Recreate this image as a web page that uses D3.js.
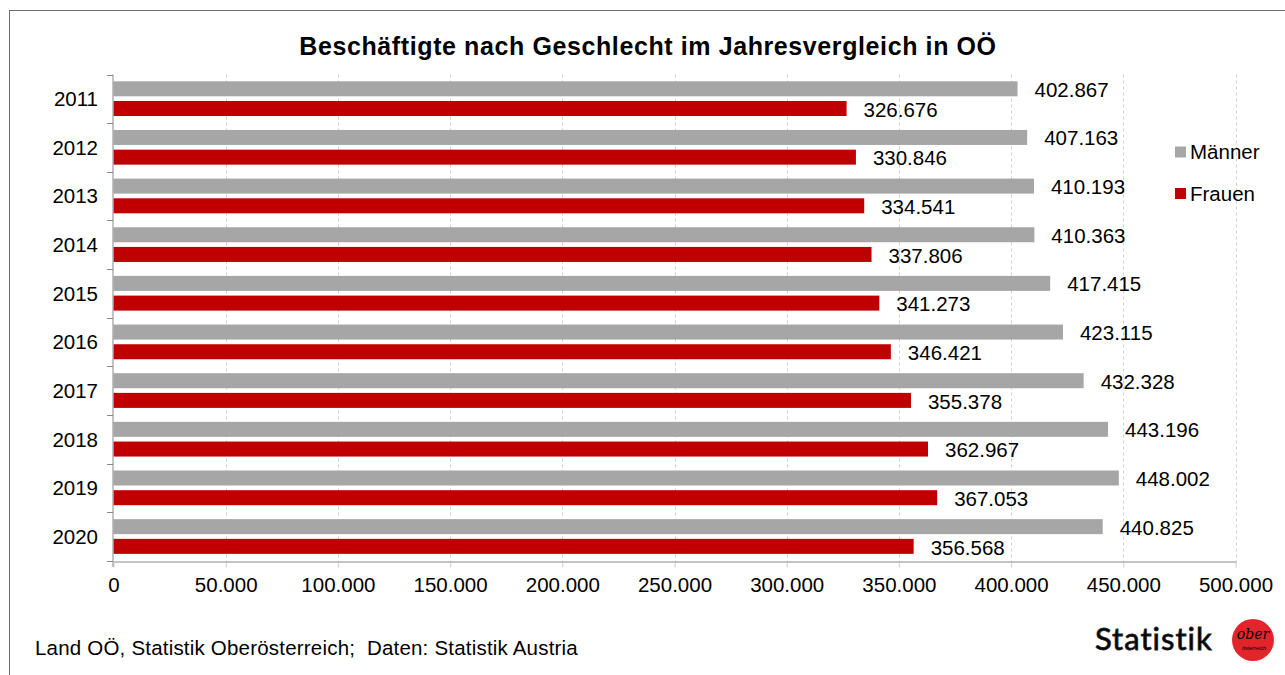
<!DOCTYPE html>
<html>
<head>
<meta charset="utf-8">
<title>Beschäftigte nach Geschlecht</title>
<script src="https://cdn.jsdelivr.net/npm/d3@7"></script>
<style>
  body { margin: 0; background: #fff; }
  text { font-family: "Liberation Sans", Arial, sans-serif; fill: #000; }
</style>
</head>
<body>
<script>
var years = ["2011","2012","2013","2014","2015","2016","2017","2018","2019","2020"];
var maenner = [402867, 407163, 410193, 410363, 417415, 423115, 432328, 443196, 448002, 440825];
var frauen = [326676, 330846, 334541, 337806, 341273, 346421, 355378, 362967, 367053, 356568];
var xTicks = [0, 50000, 100000, 150000, 200000, 250000, 300000, 350000, 400000, 450000, 500000];
var seriesNames = ["Männer", "Frauen"];
var colors = ["#a6a6a6", "#c00000"];

var W = 1285, H = 675;
var pLeft = 113.5, pRight = 1235.5, pTop = 74.5, pBottom = 561;
var fs = "20.5px";

var fmt = function(v){ return d3.format(",")(v).replace(/,/g, "."); };

var svg = d3.select("body").append("svg")
    .attr("width", W).attr("height", H);

// frame
svg.append("rect")
    .attr("x", 9.5).attr("y", 10.5)
    .attr("width", W + 10).attr("height", H + 10)
    .attr("fill", "none").attr("stroke", "#6d6d6d").attr("stroke-width", 1);

svg.append("text")
    .attr("x", 648).attr("y", 55)
    .attr("text-anchor", "middle")
    .style("font-size", "25px").style("font-weight", "bold")
    .style("letter-spacing", "0.6px")
    .text("Beschäftigte nach Geschlecht im Jahresvergleich in OÖ");

var x = d3.scaleLinear().domain([0, 500000]).range([pLeft, pRight]);
var y = d3.scaleBand().domain(years).range([pTop, pBottom]);
var bh = 15;

// grid
svg.append("g").selectAll("line")
    .data(xTicks.slice(1))
    .enter().append("line")
    .attr("x1", function(d){ return Math.round(x(d)) + 0.5; })
    .attr("x2", function(d){ return Math.round(x(d)) + 0.5; })
    .attr("y1", pTop).attr("y2", pBottom + 6)
    .attr("stroke", "#cfcfcf").attr("stroke-dasharray", "3,3");

// bars
var g = svg.append("g");
g.selectAll("rect.m").data(years).enter().append("rect")
    .attr("x", x(0))
    .attr("y", function(d){ return y(d) + 6.8; })
    .attr("width", function(d, i){ return x(maenner[i]) - x(0); })
    .attr("height", bh)
    .attr("fill", colors[0]);
g.selectAll("rect.f").data(years).enter().append("rect")
    .attr("x", x(0))
    .attr("y", function(d){ return y(d) + 26.5; })
    .attr("width", function(d, i){ return x(frauen[i]) - x(0); })
    .attr("height", bh)
    .attr("fill", colors[1]);

// labels
g.selectAll("text.m").data(years).enter().append("text")
    .attr("x", function(d, i){ return x(maenner[i]) + 17; })
    .attr("y", function(d){ return y(d) + 15; })
    .attr("dy", "0.35em")
    .style("font-size", fs)
    .text(function(d, i){ return fmt(maenner[i]); });
g.selectAll("text.f").data(years).enter().append("text")
    .attr("x", function(d, i){ return x(frauen[i]) + 17; })
    .attr("y", function(d){ return y(d) + 35; })
    .attr("dy", "0.35em")
    .style("font-size", fs)
    .text(function(d, i){ return fmt(frauen[i]); });

// axes
var xAxis = svg.append("g")
    .attr("transform", "translate(0," + (pBottom + 0.5) + ")")
    .call(d3.axisBottom(x).tickValues(xTicks).tickSize(6).tickSizeOuter(0)
        .tickFormat(function(d){ return d === 0 ? "0" : fmt(d); }));
xAxis.select(".domain").attr("stroke", "#888");
xAxis.selectAll(".tick line").attr("stroke", "#cfcfcf");
xAxis.selectAll(".tick text").style("font-size", fs)
    .style("font-family", "Liberation Sans, Arial, sans-serif").attr("fill", "#000").attr("y", 16);

var yAxis = svg.append("g")
    .attr("transform", "translate(" + (pLeft - 0.5) + ",0)");
yAxis.append("line")
    .attr("x1", 0).attr("x2", 0).attr("y1", pTop).attr("y2", pBottom + 6)
    .attr("stroke", "#888");
yAxis.selectAll("line.t").data(years.concat(["end"])).enter().append("line")
    .attr("x1", -6).attr("x2", 0)
    .attr("y1", function(d){ return Math.round(d === "end" ? pBottom : y(d)) + 0.5; })
    .attr("y2", function(d){ return Math.round(d === "end" ? pBottom : y(d)) + 0.5; })
    .attr("stroke", "#888");
yAxis.selectAll("text").data(years).enter().append("text")
    .attr("x", -15)
    .attr("y", function(d){ return y(d) + y.bandwidth() / 2; })
    .attr("dy", "0.35em")
    .attr("text-anchor", "end")
    .style("font-size", fs)
    .text(function(d){ return d; });

// legend
var leg = svg.append("g").attr("transform", "translate(1175,146.5)");
seriesNames.forEach(function(n, i){
    leg.append("rect").attr("x", 0).attr("y", i * 41.5)
        .attr("width", 11).attr("height", 11).attr("fill", colors[i]);
    leg.append("text").attr("x", 15).attr("y", i * 41.5 + 5.5)
        .attr("dy", "0.35em").style("font-size", fs).text(n);
});

// footer
svg.append("text").attr("x", 35).attr("y", 655)
    .style("font-size", fs)
    .style("letter-spacing", "0.2px")
    .text("Land OÖ, Statistik Oberösterreich;  Daten: Statistik Austria")
    .attr("xml:space", "preserve");

// logo
svg.append("text").attr("x", 1095).attr("y", 650)
    .style("font-size", "31px").style("font-family", "Lato, 'Open Sans', sans-serif")
    .style("font-weight", "normal").style("letter-spacing", "1px")
    .attr("fill", "#222").attr("stroke", "#222").attr("stroke-width", 0.8)
    .text("Statistik");
svg.append("circle").attr("cx", 1253).attr("cy", 640).attr("r", 21).attr("fill", "#e2252b");
svg.append("text").attr("x", 1253).attr("y", 639).attr("text-anchor", "middle")
    .style("font-size", "14px").style("font-style", "italic")
    .style("font-family", "DejaVu Serif, serif").attr("fill", "#fff").text("ober");
svg.append("text").attr("x", 1254).attr("y", 650).attr("text-anchor", "middle")
    .style("font-size", "5.5px").attr("fill", "#fff").text("österreich");
</script>
</body>
</html>
